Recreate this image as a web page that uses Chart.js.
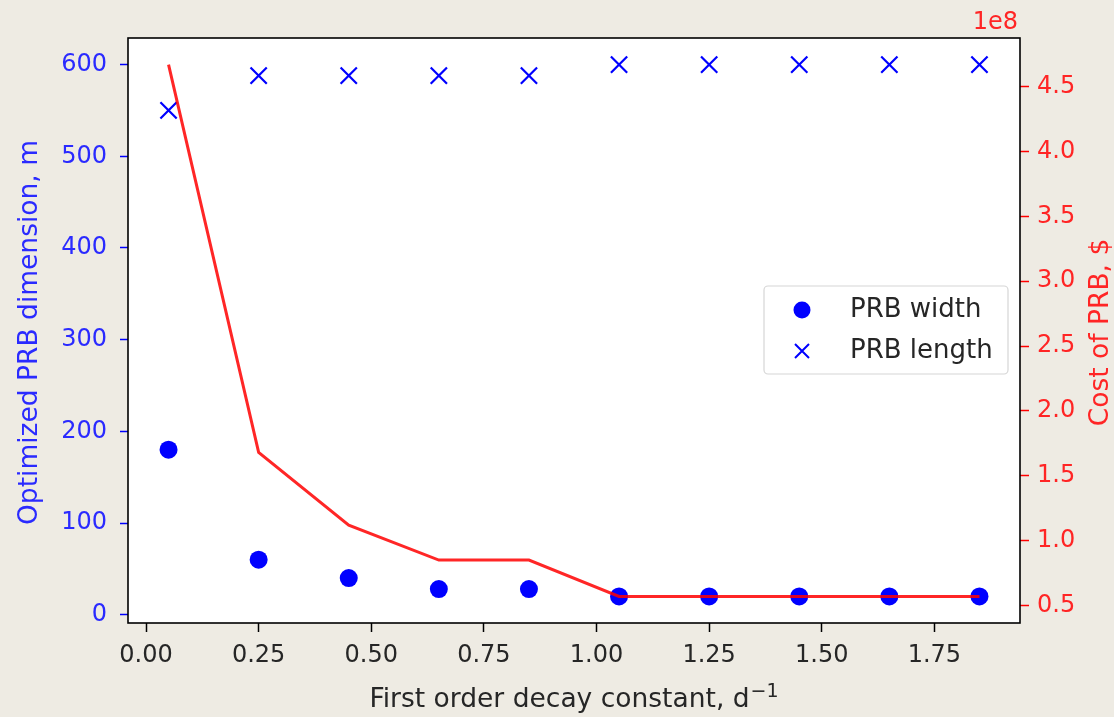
<!DOCTYPE html>
<html>
<head>
<meta charset="utf-8">
<script src="https://cdn.jsdelivr.net/npm/chart.js@4"></script>
<style>
  body { margin: 0; background: #eeebe3; }
  #chart { display: block; }
</style>
</head>
<body>
<canvas id="chart" width="1114" height="717"></canvas>
<script>
// data
const decayK = [0.05, 0.25, 0.45, 0.65, 0.85, 1.05, 1.25, 1.45, 1.65, 1.85]
const prbWidth = [180, 60, 40, 28, 28, 20, 20, 20, 20, 20]
const prbLength = [550, 588, 588, 588, 588, 600, 600, 600, 600, 600]
const prbCost = [4.67e8, 1.68e8, 1.12e8, 0.85e8, 0.85e8, 0.57e8, 0.57e8, 0.57e8, 0.57e8, 0.57e8]

// tick labels
const xTicks = [0, 0.25, 0.5, 0.75, 1.0, 1.25, 1.5, 1.75]
const dimTicks = [0, 100, 200, 300, 400, 500, 600]
const costTicks = [0.5e8, 1.0e8, 1.5e8, 2.0e8, 2.5e8, 3.0e8, 3.5e8, 4.0e8, 4.5e8]

const legendNames = ['PRB width', 'PRB length']

const BLUE = '#0000ff'
const BLUE_TXT = '#2a2aff'
const RED_TXT = '#ff2525'
const FONT = '"DejaVu Sans", sans-serif'
const TICK_PX = 24
const LABEL_PX = 26.5

function pts(xs, ys) {
  return xs.map((x, i) => ({x: x, y: ys[i]}))
}

// background, frame, titles and the legend box
const decor = {
  id: 'decor',
  beforeDraw(chart) {
    const ctx = chart.ctx
    const a = chart.chartArea
    ctx.save()
    ctx.fillStyle = '#eeebe3'
    ctx.fillRect(0, 0, chart.width, chart.height)
    ctx.fillStyle = '#ffffff'
    ctx.fillRect(a.left, a.top, a.right - a.left, a.bottom - a.top)
    ctx.restore()
  },
  afterDraw(chart) {
    const ctx = chart.ctx
    const a = chart.chartArea
    ctx.save()
    // frame
    ctx.strokeStyle = '#000'
    ctx.lineWidth = 1.6
    ctx.strokeRect(a.left, a.top, a.right - a.left, a.bottom - a.top)

    const midY = (a.top + a.bottom) / 2 + 2
    ctx.font = LABEL_PX + 'px ' + FONT
    ctx.textAlign = 'center'
    ctx.textBaseline = 'middle'

    // left title
    ctx.save()
    ctx.translate(30, midY)
    ctx.rotate(-Math.PI / 2)
    ctx.fillStyle = BLUE_TXT
    ctx.fillText('Optimized PRB dimension, m', 0, 0)
    ctx.restore()

    // right title
    ctx.save()
    ctx.translate(1101, midY)
    ctx.rotate(-Math.PI / 2)
    ctx.fillStyle = RED_TXT
    ctx.fillText('Cost of PRB, $', 0, 0)
    ctx.restore()

    // x title with superscript
    const main = 'First order decay constant, d'
    const sup = '\u22121'
    ctx.textAlign = 'left'
    ctx.textBaseline = 'alphabetic'
    const wMain = ctx.measureText(main).width
    ctx.font = '19px ' + FONT
    const wSup = ctx.measureText(sup).width
    const x0 = (a.left + a.right) / 2 - (wMain + wSup + 1) / 2
    ctx.fillStyle = '#262626'
    ctx.font = LABEL_PX + 'px ' + FONT
    ctx.fillText(main, x0, 707)
    ctx.font = '19px ' + FONT
    ctx.fillText(sup, x0 + wMain + 1, 697)

    // offset text
    ctx.font = TICK_PX + 'px ' + FONT
    ctx.fillStyle = RED_TXT
    ctx.textAlign = 'right'
    ctx.fillText('1e8', 1018, 29)

    // legend
    const lx = 764, ly = 286, lw = 244, lh = 88
    ctx.beginPath()
    ctx.roundRect(lx, ly, lw, lh, 4)
    ctx.fillStyle = 'rgba(255,255,255,0.85)'
    ctx.fill()
    ctx.strokeStyle = '#d6d6d6'
    ctx.lineWidth = 1.2
    ctx.stroke()

    ctx.fillStyle = BLUE
    ctx.beginPath()
    ctx.arc(802, 310, 8.5, 0, Math.PI * 2)
    ctx.fill()

    ctx.strokeStyle = BLUE
    ctx.lineWidth = 2
    ctx.beginPath()
    ctx.moveTo(795, 344); ctx.lineTo(809, 358)
    ctx.moveTo(809, 344); ctx.lineTo(795, 358)
    ctx.stroke()

    ctx.font = '26px ' + FONT
    ctx.fillStyle = '#262626'
    ctx.textAlign = 'left'
    ctx.textBaseline = 'middle'
    ctx.fillText(legendNames[0], 850, 310)
    ctx.fillText(legendNames[1], 850, 351)
    ctx.restore()
  }
}

const ctx = document.getElementById('chart').getContext('2d')
new Chart(ctx, {
  type: 'scatter',
  data: {
    datasets: [
      {
        label: 'PRB cost',
        data: pts(decayK, prbCost),
        yAxisID: 'y1',
        showLine: true,
        borderColor: 'rgba(255,0,0,0.85)',
        borderWidth: 3,
        pointRadius: 0,
        tension: 0
      },
      {
        label: legendNames[0],
        data: pts(decayK, prbWidth),
        yAxisID: 'y',
        pointStyle: 'circle',
        pointRadius: 9,
        backgroundColor: BLUE,
        borderWidth: 0
      },
      {
        label: legendNames[1],
        data: pts(decayK, prbLength),
        yAxisID: 'y',
        pointStyle: 'crossRot',
        pointRadius: 11.5,
        borderColor: BLUE,
        borderWidth: 2.2
      }
    ]
  },
  options: {
    responsive: false,
    animation: false,
    layout: { padding: { top: 38, left: 0, right: 0, bottom: 0 } },
    plugins: {
      legend: { display: false },
      tooltip: { enabled: false }
    },
    scales: {
      x: {
        type: 'linear',
        min: -0.04,
        max: 1.94,
        afterBuildTicks: s => { s.ticks = xTicks.map(v => ({value: v})) },
        afterFit: s => { s.height = 94 },
        border: { display: false },
        grid: { drawOnChartArea: false, drawTicks: true, tickLength: 9, tickColor: '#000', tickWidth: 1.5 },
        ticks: {
          color: '#262626',
          font: { family: FONT, size: TICK_PX },
          padding: 9,
          maxRotation: 0,
          callback: v => v.toFixed(2)
        }
      },
      y: {
        position: 'left',
        min: -9,
        max: 629,
        afterBuildTicks: s => { s.ticks = dimTicks.map(v => ({value: v})) },
        afterFit: s => { s.width = 128 },
        border: { display: false },
        grid: { drawOnChartArea: false, drawTicks: true, tickLength: 8, tickColor: BLUE, tickWidth: 1.5 },
        ticks: {
          color: BLUE_TXT,
          font: { family: FONT, size: TICK_PX },
          padding: 13,
          callback: v => String(v)
        }
      },
      y1: {
        position: 'right',
        min: 0.365e8,
        max: 4.875e8,
        afterBuildTicks: s => { s.ticks = costTicks.map(v => ({value: v})) },
        afterFit: s => { s.width = 94 },
        border: { display: false },
        grid: { drawOnChartArea: false, drawTicks: true, tickLength: 9, tickColor: '#ff0000', tickWidth: 1.5 },
        ticks: {
          color: RED_TXT,
          font: { family: FONT, size: TICK_PX },
          padding: 8,
          callback: v => (v / 1e8).toFixed(1)
        }
      }
    }
  },
  plugins: [decor]
})
</script>
</body>
</html>
